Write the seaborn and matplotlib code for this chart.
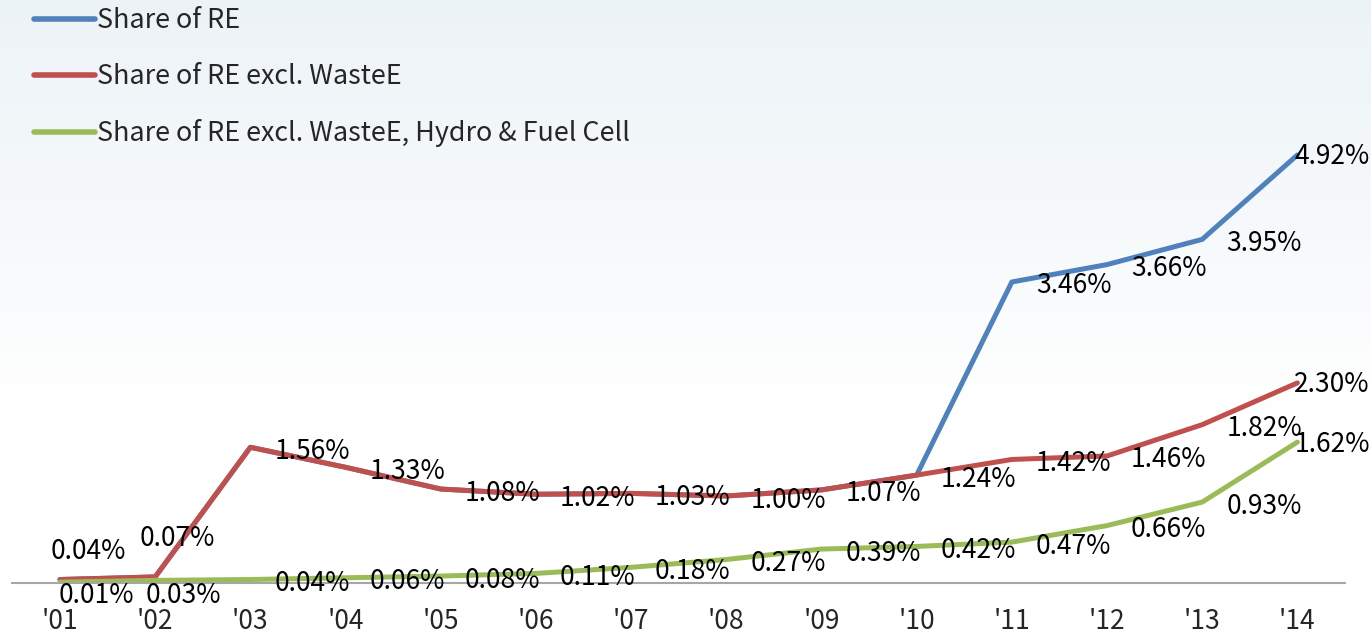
import matplotlib; matplotlib.use("Agg")
import numpy as np
import pandas as pd
import matplotlib.pyplot as plt
import seaborn as sns

YEARS = ["'01", "'02", "'03", "'04", "'05", "'06", "'07",
         "'08", "'09", "'10", "'11", "'12", "'13", "'14"]
SERIES = ["Share of RE", "Share of RE excl. WasteE",
          "Share of RE excl. WasteE, Hydro & Fuel Cell"]
# share of RE equals the excl.-waste share until '10 (hidden under the red line)
share_re = [0.04, 0.07, 1.56, 1.33, 1.08, 1.02, 1.03, 1.00, 1.07, 1.24, 3.46, 3.66, 3.95, 4.92]
share_ex_waste = [0.04, 0.07, 1.56, 1.33, 1.08, 1.02, 1.03, 1.00, 1.07, 1.24, 1.42, 1.46, 1.82, 2.30]
share_ex_all = [0.01, 0.03, 0.04, 0.06, 0.08, 0.11, 0.18, 0.27, 0.39, 0.42, 0.47, 0.66, 0.93, 1.62]
COLORS = ["#4F81BD", "#C0504D", "#9BBB59"]

df = pd.DataFrame({"idx": np.tile(np.arange(len(YEARS)), 3),
                   "value": share_re + share_ex_waste + share_ex_all,
                   "series": np.repeat(SERIES, len(YEARS))})

sns.set_style("white")
plt.rcParams["font.family"] = ["Noto Sans CJK KR", "DejaVu Sans"]
FS = 19

fig = plt.figure(figsize=(13.71, 6.37), dpi=100)

# soft sky gradient behind everything
bg = fig.add_axes([0, 0, 1, 1], zorder=0)
t = np.clip(np.linspace(0, 1, 256) / 0.65, 0, 1)[:, None]
top = np.array([236, 243, 247]) / 255
grad = top[None, None, :] * (1 - t[..., None]) + np.ones(3)[None, None, :] * t[..., None]
bg.imshow(grad, aspect="auto", extent=[0, 1, 0, 1])
bg.axis("off")

ax = fig.add_axes([12.4 / 1371, 54 / 637, (1345 - 12.4) / 1371, 522 / 637], zorder=1)
ax.patch.set_alpha(0)
sns.lineplot(data=df, x="idx", y="value", hue="series", hue_order=SERIES,
             palette=COLORS, linewidth=3.6, ax=ax, legend=True)
ax.set_xlim(-0.5, len(YEARS) - 0.5)
ax.set_ylim(0, 6.0)
ax.set_xticks(range(len(YEARS)))
ax.set_xticklabels(YEARS, fontsize=FS)
ax.tick_params(axis="x", length=0, pad=18)
ax.set_yticks([])
ax.set_xlabel(""); ax.set_ylabel("")
for s in ["top", "right", "left"]:
    ax.spines[s].set_visible(False)
ax.spines["bottom"].set_color("#A6A6A6")
ax.spines["bottom"].set_linewidth(1.5)


def label(i, v, dx=24, dy=-4, ha="left"):
    if i == len(YEARS) - 1:
        dx, dy = -3, -2
    ax.annotate(f"{v:.2f}%", (i, v), xytext=(dx, dy), textcoords="offset pixels",
                ha=ha, va="center", fontsize=FS, color="black", zorder=5)


for i in range(10, len(YEARS)):
    label(i, share_re[i])
for i, v in enumerate(share_ex_waste):
    if i == 0:
        label(i, v, 28, 28, "center")
    elif i == 1:
        label(i, v, 22, 38, "center")
    else:
        label(i, v)
for i, v in enumerate(share_ex_all):
    if i == 0:
        label(i, v, 36, -13, "center")
    elif i == 1:
        label(i, v, 28, -15, "center")
    else:
        label(i, v)

handles, labels = ax.get_legend_handles_labels()
for h in handles:
    h.set_linewidth(4)
    h.set_solid_capstyle("round")
ax.legend(handles, labels, loc="upper left", bbox_to_anchor=(18 / 1371, 1.0 + 9 / 637),
          bbox_transform=fig.transFigure, frameon=False, fontsize=19.4,
          handlelength=2.25, handletextpad=0.08, labelspacing=1.08, borderaxespad=0.2)

fig.savefig("out.png", dpi=100)
